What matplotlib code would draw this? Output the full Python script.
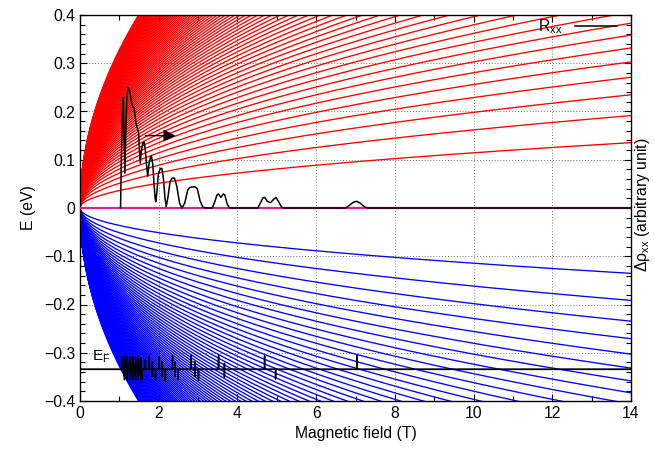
import numpy as np, matplotlib
matplotlib.use('Agg')
import matplotlib.pyplot as plt
from matplotlib.ticker import MultipleLocator, FuncFormatter

plt.rcParams['font.family'] = ['Liberation Sans', 'DejaVu Sans']
plt.rcParams['font.size'] = 11.3
plt.rcParams['mathtext.default'] = 'regular'

# Landau levels (graphene, E_n = +-c*sqrt(n*B)); c read from lowest level at 14 T (~0.135 eV)
c_level = 0.0362
n_levels = 82
e_fermi = -0.334

# R_xx trace (B in T, value on the E axis scale)
rxx_B = [1.03, 1.05, 1.08, 1.10, 1.12, 1.14, 1.16, 1.19, 1.23, 1.27, 1.30, 1.34, 1.375, 1.40, 1.425,
         1.46, 1.49, 1.51, 1.53, 1.56, 1.60, 1.63, 1.66, 1.69, 1.72, 1.75, 1.79, 1.815, 1.85, 1.88,
         1.91, 1.925, 1.95, 1.99, 2.04, 2.08, 2.12, 2.16, 2.19, 2.23, 2.29, 2.34, 2.40, 2.46, 2.53,
         2.59, 2.66, 2.74, 2.80, 2.92, 2.98, 3.05, 3.12, 3.20, 3.36, 3.42, 3.48, 3.52, 3.58, 3.64,
         3.68, 3.74, 3.80, 4.52, 4.58, 4.65, 4.69, 4.76, 4.84, 4.92, 4.98, 5.04, 5.12, 5.18, 6.75,
         6.85, 6.95, 7.03, 7.12, 7.22, 7.30, 14.0]
rxx_val = [0.0, 0.10, 0.20, 0.229, 0.15, 0.072, 0.15, 0.23, 0.250, 0.24, 0.224, 0.21, 0.207, 0.19, 0.176,
           0.165, 0.155, 0.12, 0.093, 0.12, 0.135, 0.137, 0.12, 0.09, 0.066, 0.09, 0.105, 0.108, 0.09, 0.05,
           0.02, 0.013, 0.03, 0.07, 0.082, 0.082, 0.06, 0.02, 0.003, 0.02, 0.055, 0.062, 0.062, 0.045, 0.01,
           0.0, 0.01, 0.038, 0.043, 0.044, 0.040, 0.015, 0.002, 0.0, 0.0, 0.012, 0.027, 0.029, 0.022, 0.029,
           0.027, 0.008, 0.0, 0.0, 0.01, 0.021, 0.022, 0.014, 0.011, 0.018, 0.022, 0.014, 0.002, 0.0, 0.0,
           0.006, 0.012, 0.014, 0.010, 0.003, 0.0, 0.0]

# delta rho_xx trace, offset from E_F (sawtooth then spikes)
drho_B = [0.0, 1.06, 1.06, 1.13, 1.13, 1.20, 1.20, 1.27, 1.27, 1.34, 1.34, 1.41, 1.41, 1.48, 1.48, 1.55, 1.55,
          1.57, 1.57, 1.66, 1.66, 1.66, 1.76, 1.76, 1.76, 1.84, 1.84, 1.84, 1.84, 1.92, 1.92, 1.92,
          2.01, 2.01, 2.01, 2.09, 2.09, 2.09, 2.09, 2.17, 2.17, 2.17,
          2.35, 2.35, 2.35, 2.42, 2.42, 2.42, 2.42, 2.49, 2.49, 2.49,
          2.82, 2.82, 2.82, 2.92, 2.92, 2.92, 2.92, 3.01, 3.01, 3.01,
          3.52, 3.52, 3.52, 3.67, 3.67, 3.67, 3.67, 4.69, 4.69, 4.69, 4.97, 4.97, 4.97,
          7.04, 7.04, 7.04, 14.0]
drho_val = [0.0, 0.0, 0.026, -0.022, 0.026, -0.022, 0.026, -0.022, 0.026, -0.022, 0.026, -0.022, 0.026,
            -0.022, 0.026, -0.022, 0.024, -0.022, 0.0, 0.0, 0.02, 0.0, 0.0, 0.027, 0.0, 0.0, 0.015, -0.015,
            0.0, 0.0, -0.022, 0.0,
            0.0, 0.025, 0.0, 0.0, 0.015, -0.015, 0.0, 0.0, -0.025, 0.0,
            0.0, 0.027, 0.0, 0.0, 0.015, -0.015, 0.0, 0.0, -0.022, 0.0,
            0.0, 0.028, 0.0, 0.0, 0.015, -0.015, 0.0, 0.0, -0.023, 0.0,
            0.0, 0.028, 0.0, 0.0, 0.012, -0.016, 0.0, 0.0, 0.027, 0.0, 0.0, -0.02, 0.0,
            0.0, 0.028, 0.0, 0.0]

fig = plt.figure(figsize=(6.54, 4.51), dpi=100)
ax = fig.add_axes([80/654, 1-401/451, 551/654, 386/451])

B = np.linspace(0, 14, 600)
for n in range(1, n_levels + 1):
    e = c_level*np.sqrt(n*B)
    ax.plot(B, e, color='#ff0000', lw=0.95, zorder=2)
    ax.plot(B, -e, color='#0000ff', lw=0.95, zorder=2)
ax.plot([0, 14], [0, 0], color='#e0209a', lw=1.6, zorder=3)

rxx_line, = ax.plot(rxx_B, rxx_val, color='black', lw=1.1, zorder=4, label='R$_{xx}$')
ax.axhline(e_fermi, color='black', lw=0.9, zorder=4)
ax.plot(drho_B, np.array(drho_val) + e_fermi, color='black', lw=1.1, zorder=4)
ax.text(0.3, e_fermi + 0.009, 'E$_F$', fontsize=11, va='bottom', ha='left')

ax.annotate('', xy=(2.50, 0.150), xytext=(1.59, 0.150),
            arrowprops=dict(arrowstyle='-|>', color='black', lw=1.0, mutation_scale=18), zorder=5)

ax.legend(handles=[rxx_line], loc='upper right', frameon=False, markerfirst=False,
          handlelength=2.7, bbox_to_anchor=(1.0, 1.03), fontsize=11.3)

ax.set_xlim(0, 14); ax.set_ylim(-0.4, 0.4)
ax.xaxis.set_major_locator(MultipleLocator(2)); ax.xaxis.set_minor_locator(MultipleLocator(1))
ax.yaxis.set_major_locator(MultipleLocator(0.1)); ax.yaxis.set_minor_locator(MultipleLocator(0.02))
ax.yaxis.set_major_formatter(FuncFormatter(lambda v, p: '0' if abs(v) < 1e-9 else f'{v:.1f}'.replace('-', '\u2212')))
ax.tick_params(which='both', direction='in', top=True, right=True, width=0.8)
ax.tick_params(which='major', length=5); ax.tick_params(which='minor', length=3.5)
ax.grid(True, which='major', color='#777777', linestyle=(0, (1, 2)), lw=0.7, zorder=1)
ax.set_axisbelow(True)
for s in ax.spines.values(): s.set_linewidth(1.0)

ax.set_xlabel('Magnetic field (T)', labelpad=4)
ax.set_ylabel('E (eV)', labelpad=6)
fig.text(643/654, 1-205/451, '\u0394\u03c1$_{xx}$ (arbitrary unit)', rotation=90, ha='center', va='center', fontsize=11.3)

fig.savefig('out.png', dpi=100)
